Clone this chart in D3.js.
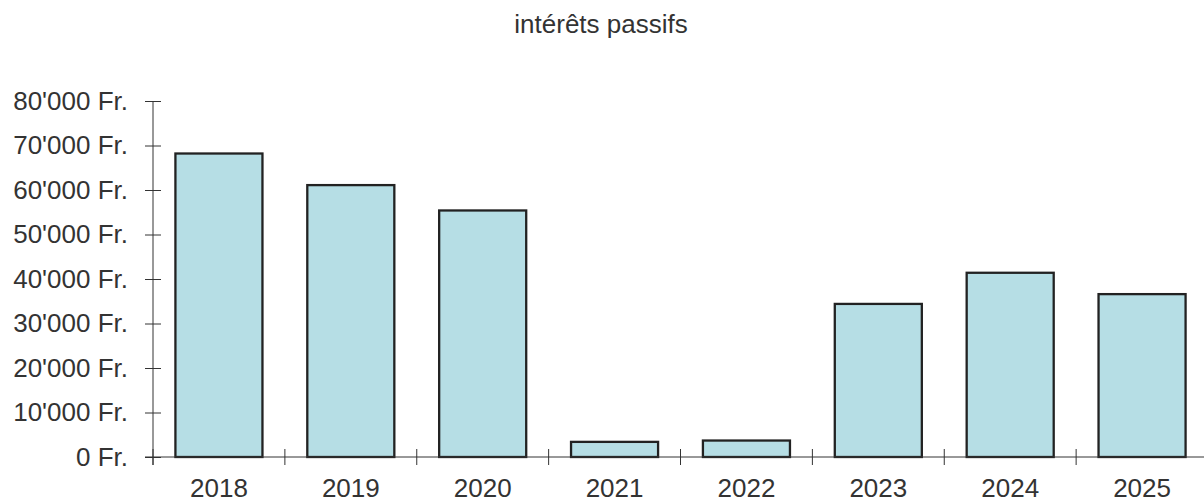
<!DOCTYPE html>
<html>
<head>
<meta charset="utf-8">
<script src="https://cdn.jsdelivr.net/npm/d3@7"></script>
<style>
  body { margin: 0; background: #fff; }
  svg { display: block; font-family: "Liberation Sans", Arial, sans-serif; }
</style>
</head>
<body>
<div id="scene"></div>
<script>
var title = "intérêts passifs";
var years = ["2018", "2019", "2020", "2021", "2022", "2023", "2024", "2025"];
var amounts = [68200, 61100, 55400, 3400, 3700, 34400, 41400, 36600];
var yTicks = [0, 10000, 20000, 30000, 40000, 50000, 60000, 70000, 80000];

var ctx = {
  w: 1204,
  h: 501,
  left: 153,
  right: 1208,
  top: 101,
  bottom: 457,
  ink: "#333333",
  fill: "#b6dee5",
  fontSize: 26
};

var fmt = function(v) {
  return d3.format(",")(v).replace(/,/g, "'") + " Fr.";
};

var svg = d3.select("#scene").append("svg")
  .attr("width", ctx.w)
  .attr("height", ctx.h);

var x = d3.scaleBand()
  .domain(years)
  .range([ctx.left, ctx.right])
  .paddingInner(0.34)
  .paddingOuter(0.17);

var y = d3.scaleLinear()
  .domain([0, 80000])
  .range([ctx.bottom, ctx.top]);

// title
svg.append("text")
  .attr("x", 601)
  .attr("y", 33)
  .attr("text-anchor", "middle")
  .attr("font-size", ctx.fontSize)
  .attr("fill", ctx.ink)
  .text(title);

// bars
svg.append("g").selectAll("rect")
  .data(years)
  .enter()
  .append("rect")
  .attr("x", function(d) { return x(d); })
  .attr("y", function(d, i) { return y(amounts[i]); })
  .attr("width", x.bandwidth())
  .attr("height", function(d, i) { return y(0) - y(amounts[i]); })
  .attr("fill", ctx.fill)
  .attr("stroke", "#222")
  .attr("stroke-width", 2.3);

// y axis
var yAxis = d3.axisLeft(y)
  .tickValues(yTicks)
  .tickFormat(fmt)
  .tickSizeInner(8)
  .tickSizeOuter(0)
  .tickPadding(17);

var gy = svg.append("g")
  .attr("transform", "translate(" + ctx.left + ",0)")
  .call(yAxis);
gy.select(".domain").remove();
gy.append("line")
  .attr("y1", y(80000)).attr("y2", y(0) + 8)
  .attr("stroke", ctx.ink);
gy.selectAll(".tick line")
  .attr("x1", 8).attr("x2", -8)
  .attr("stroke", ctx.ink);
gy.selectAll(".tick text")
  .attr("font-size", ctx.fontSize)
  .attr("fill", ctx.ink)
  .attr("font-family", "Liberation Sans, Arial, sans-serif");

// x axis
var step = x.step();
var bounds = years.map(function(d) { return x(d) - step * 0.17; });

var gx = svg.append("g");
gx.append("line")
  .attr("x1", ctx.left - 8).attr("x2", ctx.w)
  .attr("y1", ctx.bottom).attr("y2", ctx.bottom)
  .attr("stroke", ctx.ink);
gx.selectAll("line.sep")
  .data(bounds)
  .enter()
  .append("line")
  .attr("class", "sep")
  .attr("x1", function(d) { return d; })
  .attr("x2", function(d) { return d; })
  .attr("y1", ctx.bottom - 8)
  .attr("y2", ctx.bottom + 8)
  .attr("stroke", ctx.ink);
gx.selectAll("text")
  .data(years)
  .enter()
  .append("text")
  .attr("x", function(d) { return x(d) + x.bandwidth() / 2; })
  .attr("y", 497)
  .attr("text-anchor", "middle")
  .attr("font-size", ctx.fontSize)
  .attr("fill", ctx.ink)
  .text(function(d) { return d; });
</script>
</body>
</html>
